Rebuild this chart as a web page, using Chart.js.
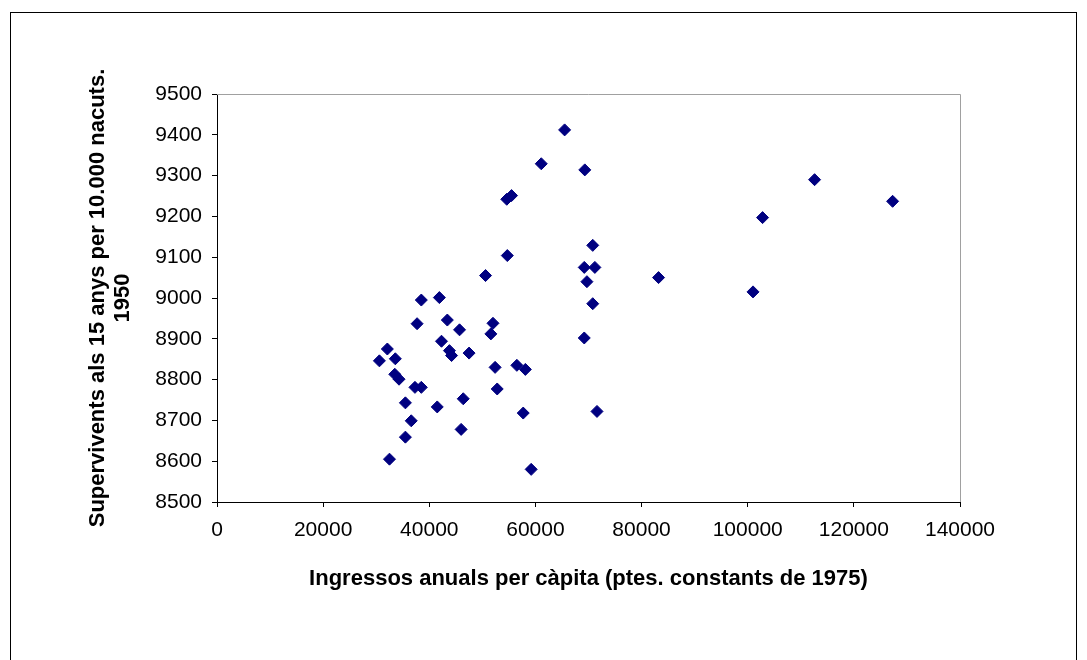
<!DOCTYPE html>
<html>
<head>
<meta charset="utf-8">
<script src="https://cdn.jsdelivr.net/npm/chart.js@4.4.0/dist/chart.umd.min.js"></script>
<style>
  html, body { margin: 0; padding: 0; background: #fff; }
  canvas { display: block; }
</style>
</head>
<body>
<canvas id="c" width="1087" height="660"></canvas>
<script>
// Ingressos anuals per càpita (ptes. constants de 1975)
const income = [30600, 32100, 33600, 33500, 34300, 35500, 36600, 35500, 32500, 37300,
                38500, 37700, 38500, 41900, 43400, 45700, 42300, 43800, 44200, 47500,
                41500, 46400, 46000, 52000, 51600, 52400, 52800, 65500, 61100, 69300,
                54600, 55500, 70800, 54700, 50600, 69200, 71200, 69700, 70800, 69200,
                56500, 58100, 57700, 71600, 59200, 112600, 127300, 102800, 83200, 101000];
// Supervivents als 15 anys per 10.000 nacuts, 1950
const survivors = [8846, 8875, 8851, 8813, 8801, 8743, 8699, 8659, 8605, 8781,
                   8781, 8937, 8995, 9001, 8946, 8922, 8894, 8871, 8859, 8865,
                   8733, 8753, 8678, 8938, 8912, 8830, 8777, 9412, 9329, 9314,
                   9242, 9251, 9129, 9104, 9055, 9075, 9075, 9040, 8986, 8902,
                   8835, 8825, 8718, 8722, 8580, 9290, 9237, 9197, 9050, 9015];
const xTicks = [0, 20000, 40000, 60000, 80000, 100000, 120000, 140000];
const yTicks = [8500, 8600, 8700, 8800, 8900, 9000, 9100, 9200, 9300, 9400, 9500];
const xTitle = "Ingressos anuals per càpita (ptes. constants de 1975)";
const yTitle = ["Supervivents als 15 anys per 10.000 nacuts.", "1950"];

const points = income.map((x, i) => ({ x: x, y: survivors[i] }));

const frame = {
  id: 'frame',
  beforeDraw(chart) {
    const ctx = chart.ctx;
    ctx.save();
    ctx.fillStyle = '#fff';
    ctx.fillRect(0, 0, chart.width, chart.height);
    ctx.strokeStyle = '#000';
    ctx.lineWidth = 1;
    ctx.strokeRect(10.5, 12.5, 1066, 720);
    ctx.restore();
  },
  beforeDatasetsDraw(chart) {
    const a = chart.chartArea;
    const ctx = chart.ctx;
    ctx.save();
    ctx.strokeStyle = '#a0a0a0';
    ctx.lineWidth = 1;
    ctx.beginPath();
    ctx.moveTo(a.left, Math.round(a.top) + 0.5);
    ctx.lineTo(Math.round(a.right) + 0.5, Math.round(a.top) + 0.5);
    ctx.lineTo(Math.round(a.right) + 0.5, a.bottom);
    ctx.stroke();
    ctx.restore();
  }
};

Chart.defaults.font.family = "'Liberation Sans', Arial, sans-serif";
Chart.defaults.color = '#000';

new Chart(document.getElementById('c'), {
  type: 'scatter',
  data: {
    datasets: [{
      data: points,
      pointStyle: 'rectRot',
      pointRadius: 6,
      pointHoverRadius: 6,
      backgroundColor: '#000080',
      borderColor: '#000080',
      borderWidth: 1
    }]
  },
  plugins: [frame],
  options: {
    responsive: false,
    devicePixelRatio: 1,
    animation: false,
    events: [],
    layout: { padding: { top: 94, right: 127, bottom: 0, left: 0 } },
    plugins: { legend: { display: false }, tooltip: { enabled: false } },
    scales: {
      x: {
        type: 'linear',
        min: xTicks[0],
        max: xTicks[xTicks.length - 1],
        afterBuildTicks: (s) => { s.ticks = xTicks.map(v => ({ value: v })); },
        afterFit: (s) => { s.height = 158; },
        ticks: {
          callback: (v) => String(v),
          font: { size: 21 },
          padding: 11,
          maxRotation: 0,
          autoSkip: false
        },
        grid: { drawOnChartArea: false, drawTicks: true, tickLength: 5, tickColor: '#000' },
        border: { color: '#000', width: 1 },
        title: {
          display: true,
          text: xTitle,
          font: { size: 22, weight: 'bold' },
          padding: { top: 0, bottom: 68 }
        }
      },
      y: {
        type: 'linear',
        min: yTicks[0],
        max: yTicks[yTicks.length - 1],
        afterBuildTicks: (s) => { s.ticks = yTicks.map(v => ({ value: v })); },
        afterFit: (s) => { s.width = 217; },
        ticks: {
          callback: (v) => String(v),
          font: { size: 21 },
          padding: 10
        },
        grid: { drawOnChartArea: false, drawTicks: true, tickLength: 5, tickColor: '#000' },
        border: { color: '#000', width: 1 },
        title: {
          display: true,
          text: yTitle,
          font: { size: 22, weight: 'bold', lineHeight: 1.12 },
          padding: { top: 86, bottom: 0 }
        }
      }
    }
  }
});
</script>
</body>
</html>
